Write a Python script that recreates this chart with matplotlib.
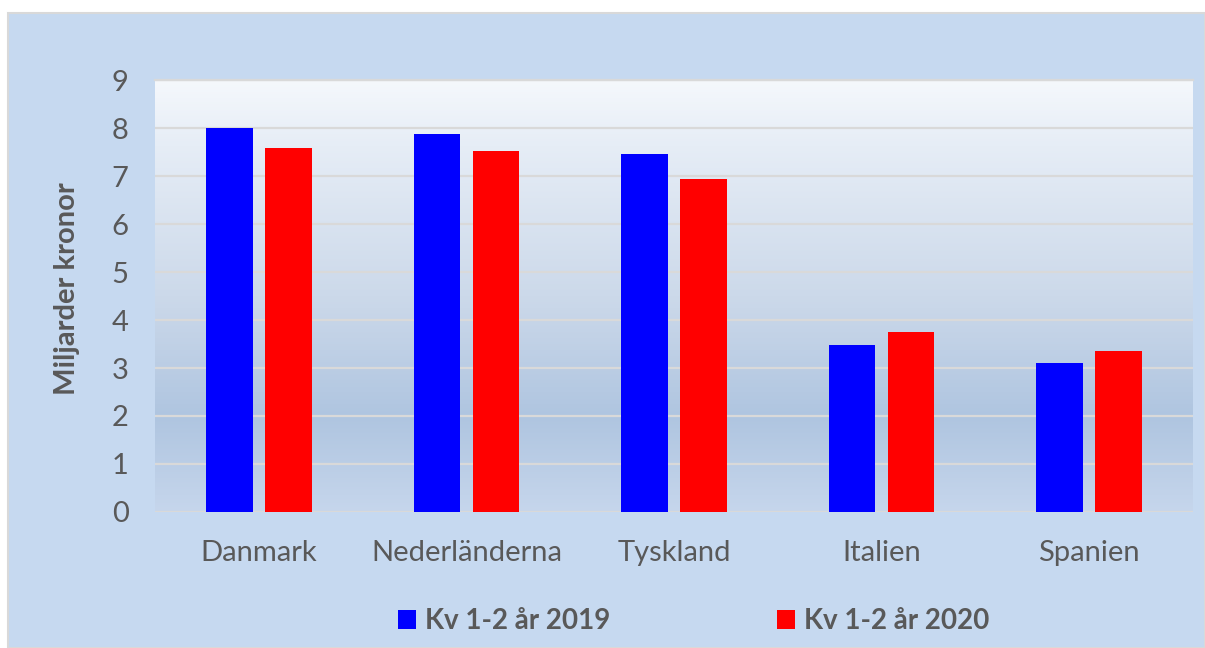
import matplotlib
matplotlib.use("Agg")
import matplotlib.pyplot as plt
import numpy as np
from matplotlib.colors import LinearSegmentedColormap
from matplotlib.patches import Rectangle

categories = ["Danmark", "Nederländerna", "Tyskland", "Italien", "Spanien"]
series_names = ["Kv 1-2 år 2019", "Kv 1-2 år 2020"]
values_2019 = [8.0, 7.87, 7.46, 3.48, 3.10]
values_2020 = [7.58, 7.52, 6.94, 3.75, 3.35]
colors = ["#0000FF", "#FF0000"]
yticks = [0, 1, 2, 3, 4, 5, 6, 7, 8, 9]

plt.rcParams['font.family'] = ['Lato', 'DejaVu Sans']
text_color = "#595959"

W, H = 1205, 648
fig = plt.figure(figsize=(W / 100, H / 100), dpi=100)
fig.patch.set_facecolor("white")
# outer chart background
fig.patches.append(Rectangle((8 / W, 0), (W - 8) / W, (H - 13) / H,
                             transform=fig.transFigure, facecolor="#C6D9F0",
                             edgecolor="#D9D9D9", linewidth=1.5, zorder=-10))

ax = fig.add_axes([155 / W, (H - 512) / H, (1193 - 155) / W, (512 - 80) / H])
ax.set_facecolor("none")

x = np.arange(len(categories))
bw = 0.224
off = 0.142
ax.bar(x - off, values_2019, bw, color=colors[0], label=series_names[0], zorder=3)
ax.bar(x + off, values_2020, bw, color=colors[1], label=series_names[1], zorder=3)

ax.set_xlim(-0.5, len(categories) - 0.5)
ax.set_ylim(0, 9)

# gradient background
cmap = LinearSegmentedColormap.from_list("bg", [
    (0.0, "#C6D6EC"),
    (0.22, "#AFC5E0"),
    (0.5, "#CCD9EA"),
    (0.85, "#E6EDF6"),
    (1.0, "#F5F8FC"),
])
grad = np.linspace(0, 1, 256).reshape(-1, 1)
ax.imshow(grad, cmap=cmap, aspect="auto", origin="lower",
          extent=(-0.5, len(categories) - 0.5, 0, 9), zorder=0)

ax.set_yticks(yticks)
ax.yaxis.grid(True, color="#D9D9D9", linewidth=1.6, zorder=1)
ax.set_axisbelow(True)
for s in ["left", "right", "bottom"]:
    ax.spines[s].set_visible(False)
ax.spines["top"].set_color("#D9D9D9")
ax.spines["top"].set_linewidth(1.6)
ax.axhline(0, color="#D9D9D9", linewidth=1.6, zorder=2)

ax.set_xticks(x)
ax.set_xticklabels(categories)
ax.tick_params(axis="both", length=0, colors=text_color, labelsize=21)
ax.tick_params(axis="x", pad=20)
ax.tick_params(axis="y", pad=19)

ax.set_ylabel("Miljarder kronor", fontsize=21, fontweight="bold", color=text_color,
              va="center")
ax.yaxis.set_label_coords(67 / W, (H - 289) / H, transform=fig.transFigure)

leg = fig.legend(loc="center", bbox_to_anchor=(694 / W, (H - 621) / H), ncol=2,
                 frameon=False, prop={"size": 20, "weight": "bold"},
                 handlelength=0.65, handleheight=0.65, columnspacing=6.0, handletextpad=0.32)
for t in leg.get_texts():
    t.set_color(text_color)

fig.savefig("out.png", dpi=100)
